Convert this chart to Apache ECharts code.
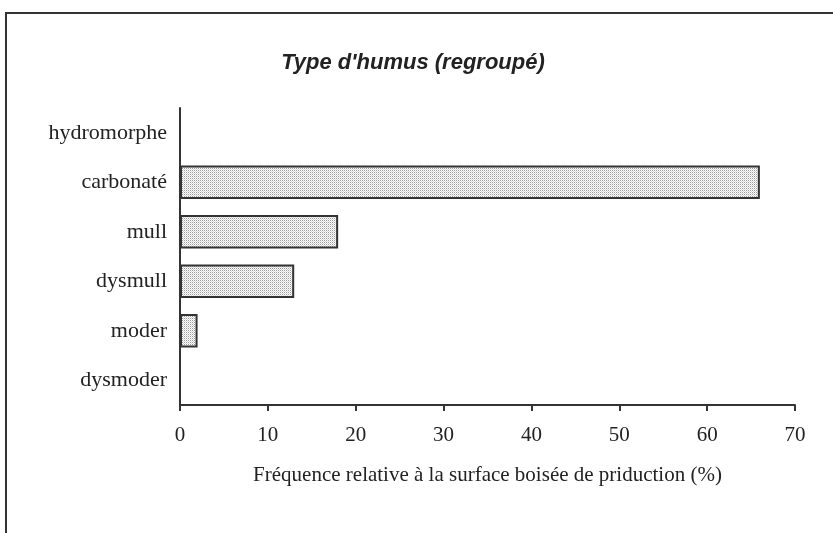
<!DOCTYPE html>
<html>
<head>
<meta charset="utf-8">
<script src="https://cdn.jsdelivr.net/npm/echarts@6/dist/echarts.min.js"></script>
<style>
  html, body { margin: 0; padding: 0; background: #fff; }
  #chart { width: 833px; height: 533px; }
</style>
</head>
<body>
<div id="chart"></div>
<script>
// data
const categories = ['hydromorphe', 'carbonaté', 'mull', 'dysmull', 'moder', 'dysmoder'];
const values = [0, 66, 18, 13, 2, 0];
const xTicks = [0, 10, 20, 30, 40, 50, 60, 70];

// stippled fill like the original
const pat = document.createElement('canvas');
pat.width = 2; pat.height = 2;
const pctx = pat.getContext('2d');
pctx.fillStyle = '#ffffff';
pctx.fillRect(0, 0, 2, 2);
pctx.fillStyle = '#9a9a9a';
pctx.fillRect(0, 0, 1, 1);
pctx.fillStyle = '#d6d6d6';
pctx.fillRect(1, 1, 1, 1);

const chart = echarts.init(document.getElementById('chart'));
const serif = '"Liberation Serif", "Times New Roman", serif';

chart.setOption({
  backgroundColor: '#fff',
  animation: false,
  graphic: [{
    type: 'rect',
    shape: { x: 6, y: 13, width: 900, height: 600 },
    style: { fill: 'none', stroke: '#333', lineWidth: 2 },
    silent: true
  }],
  title: {
    text: "Type d'humus (regroupé)",
    left: 408, top: 47, textAlign: 'center',
    textStyle: {
      fontFamily: '"Liberation Sans", Arial, sans-serif',
      fontStyle: 'italic', fontWeight: 'bold', fontSize: 22, color: '#222'
    }
  },
  grid: { left: 180, right: 38, top: 108, bottom: 128 },
  xAxis: {
    type: 'value',
    min: xTicks[0], max: xTicks[xTicks.length - 1], interval: 10,
    axisLine: { show: true, lineStyle: { color: '#333', width: 2 } },
    axisTick: { show: true, length: 6, lineStyle: { color: '#333', width: 2 } },
    splitLine: { show: false },
    axisLabel: { margin: 20, fontFamily: serif, fontSize: 21, color: '#222' },
    name: 'Fréquence relative à la surface boisée de priduction (%)',
    nameLocation: 'middle', nameGap: 60,
    nameTextStyle: { fontFamily: serif, fontSize: 21, color: '#222' }
  },
  yAxis: {
    type: 'category', inverse: true,
    data: categories,
    axisLine: { show: true, lineStyle: { color: '#333', width: 2 } },
    axisTick: { show: false },
    axisLabel: { margin: 13, fontFamily: serif, fontSize: 22, color: '#222' }
  },
  series: [{
    type: 'bar',
    data: values,
    barCategoryGap: '32%',
    itemStyle: {
      color: { image: pat, repeat: 'repeat' },
      borderColor: '#333', borderWidth: 2
    }
  }]
});
</script>
</body>
</html>
